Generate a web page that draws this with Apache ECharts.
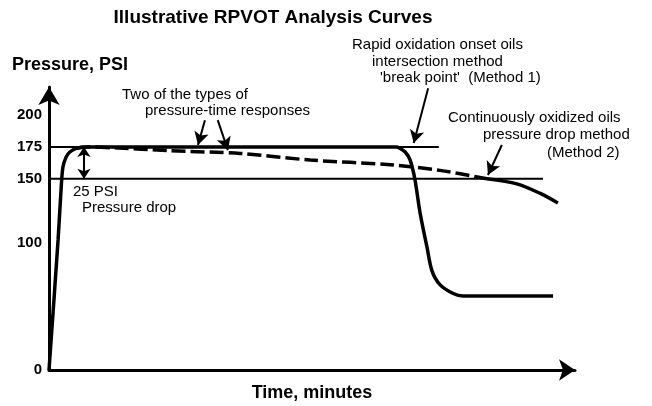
<!DOCTYPE html>
<html>
<head>
<meta charset="utf-8">
<script src="https://cdn.jsdelivr.net/npm/echarts@6/dist/echarts.min.js"></script>
<style>
  html, body { margin: 0; padding: 0; background: #fff; }
  #main { width: 652px; height: 406px; }
</style>
</head>
<body>
<div id="main"></div>
<script>
// y axis tick labels
const psiTicks = [0, 100, 150, 175, 200];

// rapid oxidation onset oil (solid curve)
const solidTime = [0, 1.7, 2.25, 2.6, 3.2, 3.9, 5.2, 7, 40, 65, 65.7, 66.7, 67.6, 68.5, 69.5, 70.8, 71.7, 73.2, 75.7, 77.5, 94.4];
const solidPsi = [0, 102, 141, 159, 167, 171, 174, 175, 175, 175, 174, 171, 165, 150, 123, 96, 78, 67, 60, 58, 58];

// continuously oxidized oil: dashed part, then solid tail after the 150 crossing
const dashedTime = [5.2, 7, 12, 22.7, 35.8, 48.9, 63.9, 73.2, 82];
const dashedPsi = [174, 175, 174.3, 172, 169.9, 164.7, 161, 156.6, 150];
const tailTime = [82, 87.6, 92, 95.3];
const tailPsi = [150, 146, 138.5, 131];

// horizontal reference lines: [level, end time]
const maxLine = [175, 73];
const dropLine = [150, 92.5];

// annotation arrows: [fromTime, fromPsi, toTime, toPsi]
const pointerArrows = [
  [29.2, 196, 27.9, 176.5],
  [31.6, 196, 33.5, 172.5],
  [71, 221, 68.3, 178],
  [84.8, 176.5, 82.2, 153]
];
const dropArrowTime = 6.55;

const pair = (xs, ys) => xs.map((x, i) => [x, ys[i]]);

const txtFont = '15px "Liberation Sans", Arial, sans-serif';
function label(x, y, text, font) {
  return {
    type: 'text', x: x, y: y, silent: true,
    style: { text: text, font: font || txtFont, fill: '#000', verticalAlign: 'middle' }
  };
}

const chart = echarts.init(document.getElementById('main'));
chart.setOption({
  animation: false,
  title: {
    text: 'Illustrative RPVOT Analysis Curves',
    left: 268, top: 3, textAlign: 'center',
    textStyle: { fontFamily: '"Liberation Sans", Arial, sans-serif', fontWeight: 'bold', fontSize: 19, color: '#000' }
  },
  grid: { left: 49, right: 77, top: 87, bottom: 36, outerBoundsMode: 'none' },
  xAxis: {
    type: 'value', min: 0, max: 98.5,
    name: 'Time, minutes', nameLocation: 'middle', nameGap: 14,
    nameTextStyle: { fontFamily: '"Liberation Sans", Arial, sans-serif', fontWeight: 'bold', fontSize: 18, color: '#000', verticalAlign: 'top' },
    axisLine: { show: true, lineStyle: { color: '#000', width: 3 }, symbol: ['none', 'arrow'], symbolSize: [16, 16] },
    axisTick: { show: false },
    axisLabel: { show: false },
    splitLine: { show: false }
  },
  yAxis: {
    type: 'value', min: 0, max: 222,
    axisLine: { show: true, lineStyle: { color: '#000', width: 3 }, symbol: ['none', 'arrow'], symbolSize: [16, 18] },
    axisTick: { show: false },
    axisLabel: {
      customValues: psiTicks, margin: 7,
      fontFamily: '"Liberation Sans", Arial, sans-serif', fontWeight: 'bold', fontSize: 15, color: '#000'
    },
    splitLine: { show: false }
  },
  graphic: [
    label(12, 65, 'Pressure, PSI', 'bold 18px "Liberation Sans", Arial, sans-serif'),
    label(122, 95, 'Two of the types of'),
    label(145, 111, 'pressure-time responses'),
    label(352, 45, 'Rapid oxidation onset oils'),
    label(372, 62, 'intersection method'),
    label(380, 78, "'break point'  (Method 1)"),
    label(448, 118, 'Continuously oxidized oils'),
    label(483, 135, 'pressure drop method'),
    label(547, 153, '(Method 2)'),
    label(73, 192, '25 PSI'),
    label(82, 208, 'Pressure drop')
  ],
  series: [
    {
      type: 'line', name: '175 PSI',
      data: [[0, maxLine[0]], [maxLine[1], maxLine[0]]],
      showSymbol: false, silent: true,
      lineStyle: { color: '#000', width: 2 },
      markLine: {
        silent: true, symbol: ['none', 'arrow'], symbolSize: [11, 13],
        label: { show: false },
        lineStyle: { color: '#000', width: 2, type: 'solid' },
        data: pointerArrows.map(a => [{ coord: [a[0], a[1]] }, { coord: [a[2], a[3]] }])
      }
    },
    {
      type: 'line', name: '150 PSI',
      data: [[0, dropLine[0]], [dropLine[1], dropLine[0]]],
      showSymbol: false, silent: true,
      lineStyle: { color: '#000', width: 2 },
      markLine: {
        silent: true, symbol: ['arrow', 'arrow'], symbolSize: [10, 10],
        label: { show: false },
        lineStyle: { color: '#000', width: 2, type: 'solid' },
        data: [[{ coord: [dropArrowTime, maxLine[0]] }, { coord: [dropArrowTime, dropLine[0]] }]]
      }
    },
    {
      type: 'line', name: 'Method 1',
      data: pair(solidTime, solidPsi),
      smooth: 0.3,
      showSymbol: false, silent: true,
      lineStyle: { color: '#000', width: 3.5 }
    },
    {
      type: 'line', name: 'Method 2',
      data: pair(dashedTime, dashedPsi),
      smooth: 0.3,
      showSymbol: false, silent: true,
      lineStyle: { color: '#000', width: 3.5, type: [14, 5] }
    },
    {
      type: 'line', name: 'Method 2 tail',
      data: pair(tailTime, tailPsi),
      smooth: 0.3,
      showSymbol: false, silent: true,
      lineStyle: { color: '#000', width: 3.5 }
    }
  ]
});
</script>
</body>
</html>
